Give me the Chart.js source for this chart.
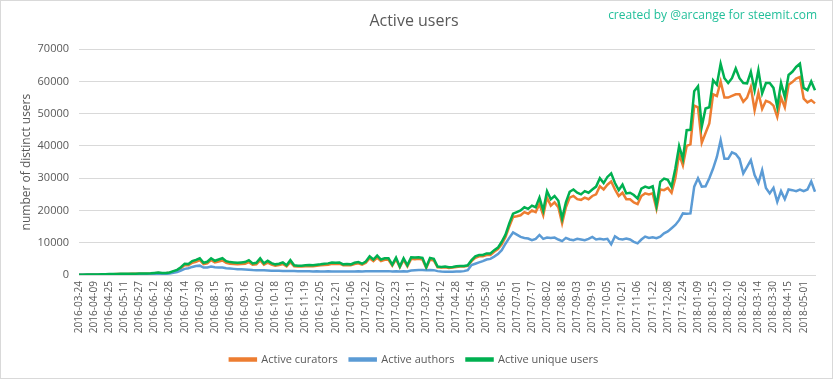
<!DOCTYPE html>
<html>
<head>
<meta charset="utf-8">
<script src="https://cdn.jsdelivr.net/npm/chart.js@4/dist/chart.umd.min.js"></script>
<style>
    html, body { margin: 0; padding: 0; background: #fff; }
    #wrap { position: relative; width: 833px; height: 379px; }
    #frame { position: absolute; left: 0; top: 0; width: 831px; height: 377px; border: 1px solid #d9d9d9; pointer-events: none; }
    #credit { position: absolute; right: 16px; top: 6px; font: 12px 'Open Sans', sans-serif; color: #22bf9a; }
</style>
</head>
<body>
<div id="wrap">
    <canvas id="usersChart" width="833" height="379"></canvas>
    <div id="credit">created by @arcange for steemit.com</div>
    <div id="frame"></div>
</div>
<script>
// one sample every 4 days, starting 2016-03-24
const startDate = '2016-03-24';
const stepDays = 4;
const labelEvery = 4; // a tick label every 16 days

const curators = [
    90, 100, 110, 120, 140, 160, 170, 200, 240, 260,
    290, 300, 320, 330, 350, 370, 380, 400, 420, 450,
    560, 650, 520, 540, 700, 1050, 1400, 2100, 3100, 3000,
    3800, 4100, 4600, 3400, 3600, 4600, 3900, 4200, 4500, 3800,
    3500, 3400, 3300, 3400, 3500, 4000, 3200, 3300, 4500, 3200,
    3800, 3200, 2900, 3100, 3400, 2700, 4000, 2700, 2600, 2600,
    2700, 2800, 2700, 2900, 3000, 3100, 3200, 3500, 3400, 3500,
    3000, 3100, 3000, 3400, 3600, 3200, 3800, 5200, 4300, 5400,
    4300, 4700, 4700, 2900, 4900, 2400, 4700, 2700, 5000, 4900,
    5000, 4800, 2200, 4800, 4500, 2400, 2300, 2400, 2200, 2300,
    2500, 2600, 2600, 2800, 4300, 5300, 5800, 5800, 6200, 6200,
    7200, 8000, 9500, 11800, 15000, 18000, 18200, 18500, 19500, 19000,
    20000, 19500, 22000, 18500, 24000, 21500, 22500, 21000, 16000, 21000,
    24000, 24500, 23500, 23300, 24000, 23500, 24500, 25000, 27500, 26500,
    28000, 29000, 26500, 24500, 25500, 23500, 23500, 22500, 22000, 24500,
    25300, 25000, 25300, 20500, 26500, 26300, 27000, 25500, 30000, 37500,
    34000, 40000, 40500, 52500, 52000, 41000, 44000, 47000, 56000, 55500,
    60000, 55000, 55000, 55500, 56000, 56000, 53700, 55000, 58300, 51100,
    56500, 51500, 54000, 53500, 52500, 49000, 55000, 52000, 59000, 59800,
    60900, 61400, 54700, 53500, 54200, 53200
];

const authors = [
    60, 70, 80, 90, 100, 110, 120, 140, 160, 170,
    190, 200, 210, 220, 230, 240, 250, 260, 270, 290,
    340, 380, 330, 340, 450, 700, 900, 1400, 1900, 2100,
    2500, 2800, 2900, 2300, 2300, 2600, 2400, 2300, 2300, 2100,
    2000, 1900, 1800, 1750, 1700, 1650, 1550, 1500, 1500, 1450,
    1400, 1350, 1300, 1300, 1250, 1250, 1250, 1250, 1200, 1200,
    1150, 1150, 1100, 1150, 1100, 1100, 1150, 1100, 1100, 1100,
    1050, 1100, 1100, 1100, 1150, 1100, 1150, 1200, 1150, 1200,
    1150, 1150, 1200, 1100, 1150, 1100, 1150, 1100, 1400, 1500,
    1550, 1550, 1500, 1550, 1500, 1200, 1050, 1000, 1000, 1000,
    1050, 1100, 1200, 1500, 3100, 3500, 3900, 4300, 4800, 5000,
    5700, 6500, 7700, 9700, 11500, 13200, 12500, 11800, 11500, 11300,
    10800, 11200, 12400, 11200, 11600, 11500, 11600, 11000, 10500, 11500,
    11000, 10800, 11200, 11000, 10800, 11200, 11800, 11000, 11200, 11000,
    11200, 9500, 12000, 11200, 11000, 11300, 11000, 10300, 9800, 11000,
    11900, 11500, 11700, 11400, 11900, 12900, 13500, 14500, 15500, 17000,
    19100, 19000, 19100, 27400, 30000, 27400, 27500, 30000, 33000, 36600,
    41800, 36000, 36000, 38000, 37500, 36000, 31500, 33500, 35600, 31000,
    28500, 32500, 27000, 25300, 27000, 22700, 26000, 23500, 26500, 26300,
    26000, 26500, 26000, 26500, 29000, 25800
];

const uniqueUsers = [
    100, 110, 130, 140, 160, 180, 200, 230, 280, 300,
    330, 350, 370, 380, 400, 420, 430, 450, 480, 520,
    650, 750, 600, 620, 800, 1200, 1600, 2400, 3500, 3400,
    4300, 4700, 5200, 3800, 4100, 5200, 4400, 4800, 5200, 4300,
    4000, 3900, 3800, 3900, 4000, 4600, 3600, 3800, 5200, 3600,
    4400, 3700, 3300, 3500, 3900, 3000, 4600, 3000, 2900, 2900,
    3000, 3100, 3000, 3200, 3300, 3500, 3600, 3900, 3800, 3900,
    3300, 3400, 3300, 3800, 4000, 3500, 4200, 5800, 4800, 6000,
    4800, 5200, 5200, 3200, 5400, 2600, 5200, 3000, 5500, 5400,
    5500, 5300, 2400, 5300, 5000, 2600, 2500, 2600, 2400, 2500,
    2700, 2800, 2800, 3000, 4600, 5800, 6200, 6200, 6700, 6700,
    7700, 8500, 10300, 12500, 16000, 19000, 19500, 20000, 21000, 20500,
    21500, 21000, 24000, 20000, 26000, 23500, 24500, 23000, 17500, 22500,
    25800, 26500, 25500, 25000, 26000, 25500, 26500, 27400, 30000, 28500,
    30400, 31500, 28500, 26300, 28000, 25300, 25500, 24800, 23700, 26800,
    27400, 27000, 27500, 21500, 28900, 29900, 29500, 27400, 33000, 40000,
    36000, 44900, 45000, 57000, 58500, 46000, 51600, 52000, 60400, 59000,
    65500, 61000, 59500, 61000, 64000, 61000, 59500, 59400, 63000, 57300,
    63500, 56300, 59500, 59500, 58000, 52100, 59500, 55200, 62000, 63000,
    64500, 65500, 58000, 57300, 60000, 57300
];

const yTicks = [0, 10000, 20000, 30000, 40000, 50000, 60000, 70000];

// build the date categories
const categories = [];
const t0 = new Date(startDate + 'T00:00:00Z').getTime();
for (let i = 0; i < uniqueUsers.length; i++) {
    categories.push(new Date(t0 + i * stepDays * 86400000).toISOString().slice(0, 10));
}

const grey = '#595959';
const gridCol = '#d9d9d9';

function series(label, data, color, order) {
    return {
        label: label,
        data: data,
        borderColor: color,
        backgroundColor: color,
        borderWidth: 2.5,
        pointRadius: 0,
        tension: 0,
        order: order
    };
}

const ctx = document.getElementById('usersChart').getContext('2d');
new Chart(ctx, {
    type: 'line',
    data: {
        labels: categories,
        datasets: [
            series('Active curators', curators, '#ed7d31', 2),
            series('Active authors', authors, '#5b9bd5', 1),
            series('Active unique users', uniqueUsers, '#00b050', 0)
        ]
    },
    options: {
        responsive: false,
        animation: false,
        devicePixelRatio: 1,
        layout: { padding: { top: 12, left: 10, right: 15, bottom: 4 } },
        scales: {
            x: {
                grid: { display: false, drawTicks: false },
                border: { color: gridCol },
                ticks: {
                    autoSkip: false,
                    maxRotation: 90,
                    minRotation: 90,
                    padding: 6,
                    color: grey,
                    font: { size: 10, family: "'Open Sans', sans-serif" },
                    callback: function(val, idx) {
                        return idx % labelEvery === 0 ? this.getLabelForValue(val) : '';
                    }
                },
                afterFit: function(scale) { scale.height = 67; }
            },
            y: {
                min: 0,
                max: 70000,
                afterBuildTicks: function(scale) {
                    scale.ticks = yTicks.map(v => ({ value: v }));
                },
                grid: { color: gridCol, drawTicks: false },
                border: { display: false },
                ticks: {
                    padding: 10,
                    color: grey,
                    font: { size: 11, family: "'Open Sans', sans-serif" },
                    callback: v => String(v)
                },
                title: {
                    display: true,
                    text: 'number of distinct users',
                    color: grey,
                    font: { size: 12, family: "'Open Sans', sans-serif" },
                    padding: { top: 9, bottom: 4 }
                },
                afterFit: function(scale) { scale.width = 69; }
            }
        },
        plugins: {
            title: {
                display: true,
                text: 'Active users',
                color: grey,
                font: { size: 16, weight: 'normal', family: "'Open Sans', sans-serif" },
                padding: { top: 0, bottom: 18 }
            },
            legend: {
                position: 'bottom',
                labels: {
                    boxWidth: 26,
                    boxHeight: 2,
                    padding: 12,
                    color: grey,
                    font: { size: 11, family: "'Open Sans', sans-serif" },
                    sort: (a, b) => a.datasetIndex - b.datasetIndex
                }
            },
            tooltip: { enabled: false }
        }
    }
});
</script>
</body>
</html>
